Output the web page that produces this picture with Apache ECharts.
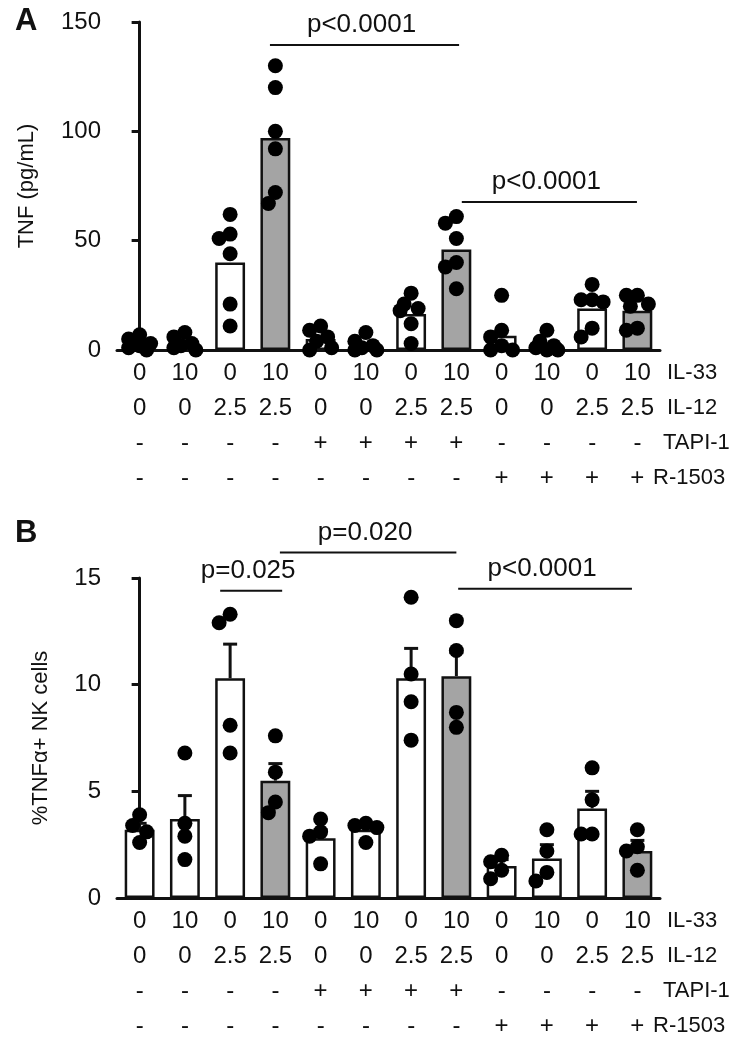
<!DOCTYPE html>
<html>
<head>
<meta charset="utf-8">
<script src="https://cdn.jsdelivr.net/npm/echarts@6/dist/echarts.min.js"></script>
<style>
html, body { margin: 0; padding: 0; background: #fff; }
#main { width: 745px; height: 1050px; }
</style>
</head>
<body>
<div id="main"></div>
<script>
// condition rows under each bar
var il33 = ['0', '10', '0', '10', '0', '10', '0', '10', '0', '10', '0', '10'];
var il12 = ['0', '0', '2.5', '2.5', '0', '0', '2.5', '2.5', '0', '0', '2.5', '2.5'];
var tapi = ['-', '-', '-', '-', '+', '+', '+', '+', '-', '-', '-', '-'];
var r1503 = ['-', '-', '-', '-', '-', '-', '-', '-', '+', '+', '+', '+'];
var rowNames = ['IL-33', 'IL-12', 'TAPI-1', 'R-1503'];
var shaded = [0, 0, 0, 1, 0, 0, 0, 1, 0, 0, 0, 1];

// panel A: TNF (pg/mL)
var tnfTicks = [0, 150, 50];
var tnfBars = [1.5, 2, 40, 97, 5, 2, 16.5, 46, 6.5, 3, 19, 18];
var tnfDots = [
    [7, 5, 3, 2, 1, 0],
    [8, 6, 3, 2, 1, 0],
    [62, 53, 51, 44, 21, 11],
    [130, 120, 100, 92, 72, 67],
    [11, 9, 6, 4, 1, 0],
    [8, 4, 2, 1, 0, 0],
    [26, 21, 19, 18, 12, 3],
    [61, 58, 51, 40, 38, 28],
    [25, 9, 6, 2, 0, 0],
    [9, 4, 2, 1, 0, 0],
    [30, 23, 23, 22, 10, 6],
    [25, 25, 21, 20, 10, 9]
];
var tnfBrackets = [[2.88, 7.06, 139.5], [7.12, 10.99, 67.7]];
var tnfBracketText = ['p<0.0001', 'p<0.0001'];

// panel B: %TNFa+ NK cells
var pctTicks = [0, 15, 5];
var pctBars = [3.2, 3.7, 10.3, 5.5, 2.8, 3.2, 10.3, 10.4, 1.5, 1.85, 4.2, 2.2];
var pctErrTop = [3.5, 4.8, 11.9, 6.3, 3.2, 3.4, 11.7, 11.5, 1.8, 2.5, 5.0, 2.7];
var pctDots = [
    [3.9, 3.4, 3.1, 2.6],
    [6.8, 3.5, 2.9, 1.8],
    [13.3, 12.9, 8.1, 6.8],
    [7.6, 5.9, 4.5, 4.0],
    [3.7, 3.1, 2.9, 1.6],
    [3.5, 3.4, 3.3, 2.6],
    [14.1, 10.5, 9.2, 7.4],
    [13.0, 11.6, 8.7, 8.0],
    [2.0, 1.7, 1.3, 0.9],
    [3.2, 2.2, 1.2, 0.8],
    [6.1, 4.6, 3.0, 3.0],
    [3.2, 2.4, 2.2, 1.3]
];
var pctBrackets = [[1.78, 3.15, 14.4], [3.1, 7.0, 16.2], [7.04, 10.88, 14.5]];
var pctBracketText = ['p=0.025', 'p=0.020', 'p<0.0001'];

var FONT = '"Liberation Sans", Arial, Helvetica, sans-serif';
var INK = '#111';
var GREY = '#a4a4a4';
var FS = 24;       // tick / row label size
var LH = 35;       // line height of the condition rows
var LMARGIN = 6;
var ROW_LEFT = [667, 667, 663, 653];

var gridA = { left: 117, right: 85, top: 22, height: 328 };
var gridB = { left: 117, right: 85, top: 578, height: 320 };

var chart = echarts.init(document.getElementById('main'), null, { renderer: 'canvas' });

function catAxis(gi) {
    return {
        type: 'category', gridIndex: gi,
        data: il33.map(function (v, i) { return String(i); }),
        axisLine: { lineStyle: { color: INK, width: 3 } },
        axisTick: { show: false },
        axisLabel: {
            interval: 0, margin: LMARGIN, color: INK, fontFamily: FONT, fontSize: FS, lineHeight: LH,
            formatter: function (v, i) {
                return [il33[i], il12[i], tapi[i], r1503[i]].join('\n');
            }
        }
    };
}
function valXAxis(gi) {
    return { type: 'value', gridIndex: gi, min: -0.5, max: 11.5, show: false };
}
function yAx(gi, ticks, name, gap) {
    return {
        type: 'value', gridIndex: gi, min: ticks[0], max: ticks[1], interval: ticks[2],
        name: name, nameLocation: 'middle', nameGap: gap,
        nameTextStyle: { color: INK, fontFamily: FONT, fontSize: 22 },
        axisLine: { show: true, lineStyle: { color: INK, width: 3 } },
        axisTick: { show: true, length: 8, lineStyle: { color: INK, width: 3 } },
        axisLabel: { color: INK, fontFamily: FONT, fontSize: FS, margin: 16 },
        splitLine: { show: false }
    };
}

function barData(vals) {
    return vals.map(function (v, i) {
        return { value: v, itemStyle: { color: shaded[i] ? GREY : '#fff' } };
    });
}

function bracketRenderer(texts) {
    return function (params, api) {
        var p1 = api.coord([api.value(0), api.value(2)]);
        var p2 = api.coord([api.value(1), api.value(2)]);
        return {
            type: 'group',
            children: [
                { type: 'line', shape: { x1: p1[0], y1: p1[1], x2: p2[0], y2: p2[1] },
                  style: { stroke: INK, lineWidth: 2 } },
                { type: 'text', x: (p1[0] + p2[0]) / 2 - 3, y: p1[1] - 20,
                  style: { text: texts[params.dataIndex], fill: INK, font: '26px ' + FONT,
                           align: 'center', verticalAlign: 'middle' } }
            ]
        };
    };
}

function errRenderer(params, api) {
    var pm = api.coord([api.value(0), api.value(1)]);
    var pt = api.coord([api.value(0), api.value(2)]);
    return {
        type: 'group',
        children: [
            { type: 'line', shape: { x1: pm[0], y1: pm[1], x2: pt[0], y2: pt[1] },
              style: { stroke: INK, lineWidth: 3 } },
            { type: 'line', shape: { x1: pt[0] - 7, y1: pt[1], x2: pt[0] + 7, y2: pt[1] },
              style: { stroke: INK, lineWidth: 3 } }
        ]
    };
}

function flatDots(groups) {
    var out = [];
    groups.forEach(function (g, i) {
        g.forEach(function (v) { out.push([i, v]); });
    });
    return out;
}

function rowLabels(grid) {
    var base = grid.top + grid.height + LMARGIN;
    return rowNames.map(function (t, k) {
        return {
            type: 'text', left: ROW_LEFT[k], top: base + LH * k + LH / 2 - 12,
            style: { text: t, fill: INK, font: '22px ' + FONT }
        };
    });
}

var option = {
    animation: false,
    backgroundColor: '#fff',
    grid: [gridA, gridB],
    xAxis: [catAxis(0), valXAxis(0), catAxis(1), valXAxis(1)],
    yAxis: [
        yAx(0, tnfTicks, 'TNF (pg/mL)', 79),
        yAx(1, pctTicks, '%TNF\u03b1+ NK cells', 65)
    ],
    graphic: [
        { type: 'text', left: 15, top: 6, style: { text: 'A', fill: INK, font: 'bold 31px ' + FONT } },
        { type: 'text', left: 15, top: 518, style: { text: 'B', fill: INK, font: 'bold 31px ' + FONT } }
    ].concat(rowLabels(gridA), rowLabels(gridB)),
    series: [
        {
            type: 'bar', xAxisIndex: 0, yAxisIndex: 0, barWidth: '66%',
            itemStyle: { borderColor: INK, borderWidth: 2.5 },
            data: barData(tnfBars), z: 2
        },
        {
            type: 'scatter', xAxisIndex: 1, yAxisIndex: 0, symbolSize: 15, clip: false,
            itemStyle: { color: '#000', opacity: 1 }, data: flatDots(tnfDots), z: 5
        },
        {
            type: 'custom', xAxisIndex: 1, yAxisIndex: 0, clip: false,
            renderItem: bracketRenderer(tnfBracketText), data: tnfBrackets, z: 6
        },
        {
            type: 'bar', xAxisIndex: 2, yAxisIndex: 1, barWidth: '66%',
            itemStyle: { borderColor: INK, borderWidth: 2.5 },
            data: barData(pctBars), z: 2
        },
        {
            type: 'custom', xAxisIndex: 2, yAxisIndex: 1, clip: false,
            renderItem: errRenderer,
            data: pctBars.map(function (m, i) { return [i, m, pctErrTop[i]]; }), z: 3
        },
        {
            type: 'scatter', xAxisIndex: 3, yAxisIndex: 1, symbolSize: 15, clip: false,
            itemStyle: { color: '#000', opacity: 1 }, data: flatDots(pctDots), z: 5
        },
        {
            type: 'custom', xAxisIndex: 3, yAxisIndex: 1, clip: false,
            renderItem: bracketRenderer(pctBracketText), data: pctBrackets, z: 6
        }
    ]
};
chart.setOption(option);

// spread overlapping dots sideways, using the chart's own scales
function swarm(groups, xIdx, yIdx) {
    var pxY = chart.convertToPixel({ yAxisIndex: yIdx }, 0) - chart.convertToPixel({ yAxisIndex: yIdx }, 1);
    var pxX = chart.convertToPixel({ xAxisIndex: xIdx }, 1) - chart.convertToPixel({ xAxisIndex: xIdx }, 0);
    var cands = [0, -7, 7, -11, 11, -4, 4];
    var out = [];
    groups.forEach(function (g, i) {
        var placed = [];
        g.slice().sort(function (a, b) { return b - a; }).forEach(function (v) {
            var best = null, bestD = -1;
            for (var c = 0; c < cands.length; c++) {
                var dmin = Infinity;
                placed.forEach(function (p) {
                    var d = Math.sqrt(Math.pow(p[0] - cands[c], 2) + Math.pow((p[1] - v) * pxY, 2));
                    if (d < dmin) dmin = d;
                });
                if (dmin >= 12) { best = cands[c]; break; }
                if (dmin > bestD) { bestD = dmin; best = cands[c]; }
            }
            placed.push([best, v]);
            out.push([i + best / pxX, v]);
        });
    });
    return out;
}

chart.setOption({
    series: [
        {}, { data: swarm(tnfDots, 1, 0) }, {}, {}, {}, { data: swarm(pctDots, 3, 1) }, {}
    ]
});
</script>
</body>
</html>
